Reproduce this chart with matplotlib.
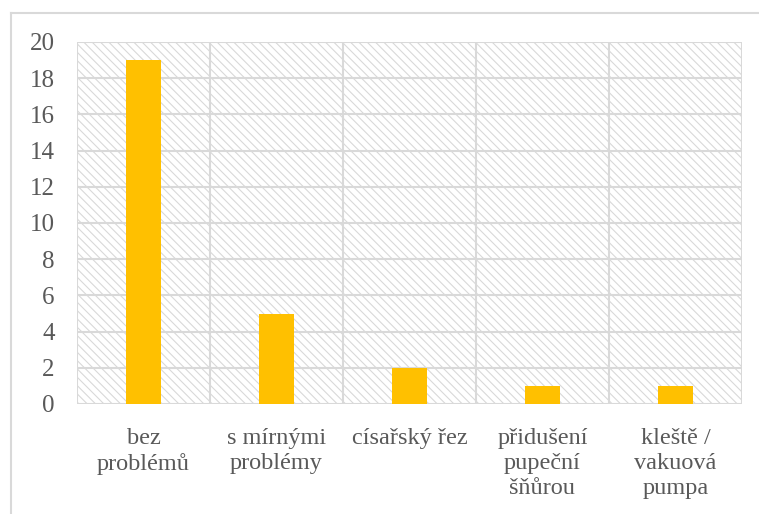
import matplotlib
matplotlib.use("Agg")
import matplotlib.pyplot as plt
from matplotlib.patches import Rectangle
from matplotlib.lines import Line2D
import numpy as np

categories = ["bez\nproblémů", "s mírnými\nproblémy", "císařský řez",
              "přidušení\npupeční\nšňůrou", "kleště /\nvakuová\npumpa"]
values = [19, 5, 2, 1, 1]
yticks = [0, 2, 4, 6, 8, 10, 12, 14, 16, 18, 20]

plt.rcParams['font.family'] = ['Liberation Serif', 'DejaVu Serif']
plt.rcParams['hatch.linewidth'] = 0.8
plt.rcParams['hatch.color'] = '#d9d9d9'

grid_c = '#d9d9d9'
text_c = '#595959'

fig = plt.figure(figsize=(7.59, 5.14), dpi=100)
ax = fig.add_axes([77/759, 1-404/514, (742-77)/759, (404-42)/514])

x = np.arange(len(categories))
ax.set_xlim(-0.5, len(categories) - 0.5)
ax.set_ylim(0, 20)

# hatched background
bg = Rectangle((0, 0), 1, 1, transform=ax.transAxes, facecolor='white',
               edgecolor=grid_c, hatch='\\\\\\\\', linewidth=0, zorder=0)
ax.add_patch(bg)

for yv in yticks:
    ax.axhline(yv, color=grid_c, linewidth=1.5, zorder=1)
for xv in np.arange(-0.5, len(categories), 1.0):
    ax.axvline(xv, color=grid_c, linewidth=1.5, zorder=1)

ax.bar(x, values, width=0.27, color='#FFC000', zorder=2)

for s in ax.spines.values():
    s.set_visible(False)

ax.set_yticks(yticks)
ax.set_yticklabels([str(v) for v in yticks], fontsize=18, color=text_c)
ax.set_xticks(x)
ax.set_xticklabels(categories, fontsize=17.5, color=text_c, linespacing=1.25, va='top')
ax.tick_params(axis='both', length=0)
ax.tick_params(axis='y', pad=16)
ax.tick_params(axis='x', pad=17)

# outer chart border (top and left visible)
fig.add_artist(Line2D([11/759, 11/759], [0, 1-13/514], color=grid_c, linewidth=1.5, transform=fig.transFigure))
fig.add_artist(Line2D([11/759, 1], [1-13/514, 1-13/514], color=grid_c, linewidth=1.5, transform=fig.transFigure))

fig.savefig("out.png", dpi=100)
